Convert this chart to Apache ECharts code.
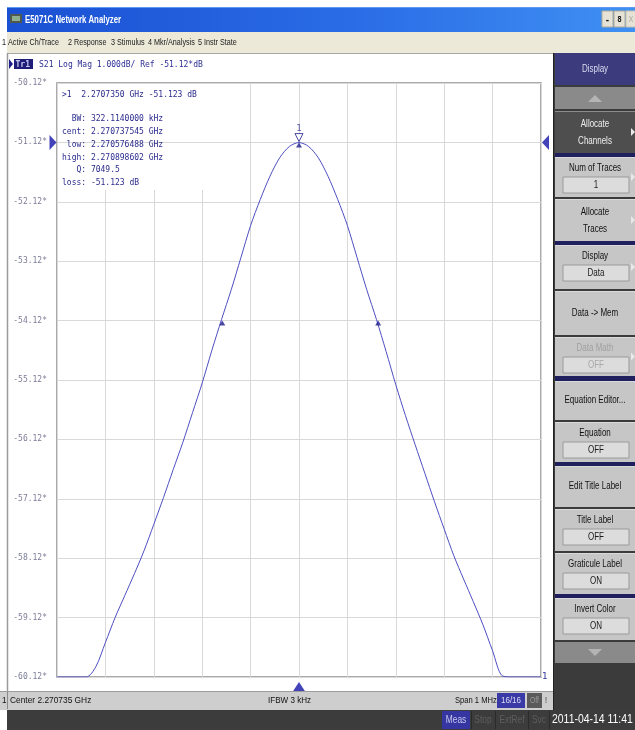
<!DOCTYPE html>
<html><head><meta charset="utf-8">
<script src="https://cdn.jsdelivr.net/npm/echarts@6/dist/echarts.min.js"></script>
<style>html,body{margin:0;padding:0;background:#fff}#c{width:635px;height:730px}</style>
</head><body><div id="c"></div>
<script>
// ---- chart data ----
const freqOffsetKHz = [-500,-440,-420,-400,-380,-360,-340,-320,-300,-280,-260,-240,-220,-200,-180,-160,-140,-120,-100,-80,-60,-40,-20,0,20,40,60,80,100,120,140,160,180,200,220,240,260,280,300,320,340,360,380,400,420,440,500];
const s21dB = [-60.12,-60.12,-59.95,-59.54,-59.12,-58.75,-58.38,-57.99,-57.55,-57.10,-56.63,-56.17,-55.67,-55.17,-54.62,-54.10,-53.60,-53.06,-52.52,-52.08,-51.69,-51.38,-51.19,-51.123,-51.19,-51.38,-51.69,-52.08,-52.52,-53.06,-53.60,-54.10,-54.64,-55.20,-55.72,-56.21,-56.69,-57.17,-57.63,-58.08,-58.47,-58.85,-59.24,-59.68,-60.10,-60.12,-60.12];
const refLevel = -51.12;
const scaleBottom = -60.12;
const scaleTop = -50.12;
const scaleDiv = 1;
const xSpanMin = -500;
const xSpanMax = 500;
const xDiv = 100;
const activeMarkerF = [0];
const activeMarkerV = [-51.123];
const bwMarkerF = [-158.5, 163.6];
const bwMarkerV = [-54.12, -54.12];
const traceHeader = 'S21 Log Mag 1.000dB/ Ref -51.12*dB';
const readoutLines = ['>1  2.2707350 GHz -51.123 dB','','  BW: 322.1140000 kHz','cent: 2.270737545 GHz',' low: 2.270576488 GHz','high: 2.270898602 GHz','   Q: 7049.5','loss: -51.123 dB'];
const menuItems = ['1 Active Ch/Trace','2 Response','3 Stimulus','4 Mkr/Analysis','5 Instr State'];

// ---- layout / style ----
const MONO = '"DejaVu Sans Mono","Liberation Mono",monospace';
const SANS = '"Liberation Sans",Arial,sans-serif';
const NAVY = '#1c1c8c';
const G = [];
function R(x,y,w,h,fill,z,stroke){ G.push({type:'rect',z:z||5,silent:true,shape:{x:x,y:y,width:w,height:h},style:{fill:fill,stroke:stroke||null,lineWidth:1}}); }
function T(x,y,s,font,fill,align,sx,z){ G.push({type:'text',x:x,y:y,scaleX:sx||1,z:z||7,silent:true,style:{text:s,font:font,fill:fill,textAlign:align||'left',textVerticalAlign:'middle',align:align||'left',verticalAlign:'middle'}}); }
function P(pts,fill,z){ G.push({type:'polygon',z:z||7,silent:true,shape:{points:pts},style:{fill:fill}}); }
function Ln(x1,y1,x2,y2,stroke,w,z){ G.push({type:'line',z:z||6,silent:true,shape:{x1:x1,y1:y1,x2:x2,y2:y2},style:{stroke:stroke,lineWidth:w||1}}); }

// title bar
G.push({type:'rect',z:5,silent:true,shape:{x:7,y:7,width:628,height:25},style:{fill:new echarts.graphic.LinearGradient(0,0,1,0,[{offset:0,color:'#1a50d2'},{offset:0.55,color:'#2a6ce6'},{offset:1,color:'#3f90f3'}])}});
Ln(7,7.5,635,7.5,'#5f9af0',1);
R(10,14,12,9,'#4d5a4d',6); R(12,16,8,5,'#8fae8f',7);
T(25,20,'E5071C Network Analyzer','bold 11.5px '+SANS,'#ffffff','left',0.68);
R(602,11,11,16,'#e6e3d6',6,'#b0ab98'); T(607.5,20,'-','bold 10px '+SANS,'#111','center');
R(614,11,11,16,'#e6e3d6',6,'#b0ab98'); T(619.5,19.5,'8','bold 9px '+SANS,'#111','center',0.8);
R(626,11,10,16,'#e6e3d6',6,'#c8c3b0'); T(631,19.5,'X','9px '+SANS,'#b0a8a0','center',0.8);
// menu bar
R(7,32,628,21,'#ece9d8',5);
(function(){ const xs=[2,68,111,148,198]; menuItems.forEach((m,i)=>T(xs[i],42.5,m,'9px '+SANS,'#1a1a1a','left',0.8)); })();
Ln(7,53.5,553,53.5,'#a8a8a8',1);
Ln(7.5,53,7.5,691,'#9a9a9a',1.5);

// trace header
P([[9,59],[9,69],[13,64]],NAVY);
R(14,59,19,10,'#1e1e78',6);
T(15.5,64.5,'Tr1','bold 8px '+MONO,'#c8c8f0');
T(39,64.5,traceHeader,'8px '+MONO,'#2e2e96');

// readout box background (covers the graticule)
R(58,84,188,106,'#ffffff',1);
readoutLines.forEach((s,i)=>{ if(s) T(62, i===0?95:(94+i*12.7), s,'8px '+MONO,'#2a2a8e'); });

// right soft-key panel
const KF = '10px '+SANS, KS = 0.8;
R(553,53,82,657,'#3b3b3b',4);
Ln(553.5,53,553.5,710,'#222',1);
function key(y0,y1,bg,fg,lines,field,fieldFg,arrow){
  R(555,y0,80,y1-y0,bg,5);
  Ln(555,y0+0.5,635,y0+0.5,'rgba(255,255,255,0.35)',1);
  if(field){
    T(595,y0+11,lines[0],KF,fg,'center',KS);
    R(563,y0+20,66,16,'#dcdcdc',6,'#9a9a9a');
    T(596,y0+28.5,field,KF,fieldFg||'#1a1a1a','center',KS);
  } else if(lines.length===2){
    T(595,(y0+y1)/2-8,lines[0],KF,fg,'center',KS);
    T(595,(y0+y1)/2+9,lines[1],KF,fg,'center',KS);
  } else {
    T(595,(y0+y1)/2,lines[0],KF,fg,'center',KS);
  }
  if(arrow){ P([[631,(y0+y1)/2-4],[631,(y0+y1)/2+4],[635,(y0+y1)/2]],'#e8e8e8'); }
}
function sep(y0,y1){ R(555,y0,80,y1-y0,'#20205e',6); }
R(555,53,80,32,'#3b3b7e',5);
T(595,69,'Display',KF,'#dcdcf0','center',KS);
R(555,87,80,22,'#8a8a8a',5);
P([[588,102],[602,102],[595,95]],'#b4b4b4');
key(111,153,'#4e4e4e','#f0f0f0',['Allocate','Channels'],null,null,true);
sep(153,157);
key(157,197,'#c6c6c6','#111',['Num of Traces'],'1',null,true);
key(199,241,'#c6c6c6','#111',['Allocate','Traces'],null,null,true);
sep(241,245);
key(245,289,'#c6c6c6','#111',['Display'],'Data',null,true);
key(291,335,'#c6c6c6','#111',['Data -> Mem']);
key(337,376,'#c6c6c6','#a0a0a0',['Data Math'],'OFF','#a8a8a8',true);
sep(376,381);
key(381,420,'#c6c6c6','#111',['Equation Editor...']);
key(422,462,'#c6c6c6','#111',['Equation'],'OFF');
sep(462,466);
key(466,507,'#c6c6c6','#111',['Edit Title Label']);
key(509,551,'#c6c6c6','#111',['Title Label'],'OFF');
key(553,594,'#c6c6c6','#111',['Graticule Label'],'ON');
sep(594,598);
key(598,640,'#c6c6c6','#111',['Invert Color'],'ON');
R(555,642,80,21,'#8a8a8a',5);
P([[588,649],[602,649],[595,656]],'#b4b4b4');

// status bar
R(0,691,553,19,'#cecece',5);
Ln(0,691.5,553,691.5,'#9c9c9c',1);
T(2,700.5,'1','9.5px '+SANS,'#111','left',0.85);
Ln(7.5,692,7.5,709,'#8a8a8a',1);
T(10,700.5,'Center 2.270735 GHz','9.5px '+SANS,'#111','left',0.88);
T(268,700.5,'IFBW 3 kHz','9.5px '+SANS,'#111','left',0.85);
T(455,700.5,'Span 1 MHz','9.5px '+SANS,'#111','left',0.8);
R(497,693,28,15,'#3a3aa6',6);
T(511,700.5,'16/16','9.5px '+SANS,'#dcdcf4','center',0.85);
R(527,693,15,15,'#5a5a5a',6);
T(534.5,700.5,'Off','8.5px '+SANS,'#9a9a9a','center',0.8);
T(546,700.5,'!','9px '+SANS,'#555','center');
// bottom bar
R(7,710,628,20,'#3c3c3c',5);
R(442,711,28,18,'#3636a2',6);
T(456,720,'Meas','10.5px '+SANS,'#c8c8ee','center',0.8);
Ln(471.5,711,471.5,729,'#2a2a2a',1);
T(483,720,'Stop','10.5px '+SANS,'#5e5e5e','center',0.8);
Ln(495.5,711,495.5,729,'#2a2a2a',1);
T(512,720,'ExtRef','10.5px '+SANS,'#5e5e5e','center',0.8);
Ln(528.5,711,528.5,729,'#2a2a2a',1);
T(539,720,'Svc','10.5px '+SANS,'#5e5e5e','center',0.8);
Ln(549.5,711,549.5,729,'#2a2a2a',1);
T(552,720,'2011-04-14 11:41','12px '+SANS,'#ffffff','left',0.87);

const chart = echarts.init(document.getElementById('c'), null, {renderer:'canvas', width:635, height:730});
chart.setOption({
  animation:false,
  backgroundColor:'#ffffff',
  grid:{left:57, top:83, width:484, height:594, show:true, borderColor:'#8e8e8e', borderWidth:1.5, backgroundColor:'transparent'},
  xAxis:{type:'value', min:xSpanMin, max:xSpanMax, interval:xDiv,
    axisLine:{show:false}, axisTick:{show:false}, axisLabel:{show:false},
    splitLine:{show:true, lineStyle:{color:'#d9d9d9', width:1}}},
  yAxis:{type:'value', min:scaleBottom, max:scaleTop, interval:scaleDiv,
    axisLine:{show:false}, axisTick:{show:false},
    axisLabel:{show:true, margin:10, color:'#7c7c98', fontFamily:'DejaVu Sans Mono', fontSize:8,
      formatter:function(v){ return v.toFixed(2)+'*'; }},
    splitLine:{show:true, lineStyle:{color:'#d9d9d9', width:1}}},
  graphic:{elements:G},
  series:[
    {type:'line', data:freqOffsetKHz.map((f,i)=>[f,s21dB[i]]), showSymbol:false, smooth:0.3,
     lineStyle:{color:'#4e4ec2', width:1}, z:3,
     endLabel:{show:true, formatter:'1', color:'#3030a0', fontFamily:'DejaVu Sans Mono', fontSize:9, distance:1},
     markLine:{silent:true, symbol:'none', label:{show:false}, lineStyle:{color:'#d9d9d9', type:'solid', width:1},
       data:[{yAxis:refLevel}], z:1}},
    {type:'scatter', clip:false, z:4, data:bwMarkerF.map((f,i)=>[f,bwMarkerV[i]]),
     symbol:'triangle', symbolSize:[6,5], symbolOffset:[0,2.5], itemStyle:{color:NAVY}},
    {type:'scatter', clip:false, z:4, data:activeMarkerF.map((f,i)=>[f,activeMarkerV[i]]),
     symbol:'triangle', symbolSize:[6,5], symbolOffset:[0,2.5], itemStyle:{color:NAVY}},
    {type:'scatter', clip:false, z:4, data:activeMarkerF.map((f,i)=>[f,activeMarkerV[i]]),
     symbol:'triangle', symbolRotate:180, symbolSize:[8,8], symbolOffset:[0,-5],
     itemStyle:{color:'#ffffff', borderColor:NAVY, borderWidth:1},
     label:{show:true, formatter:'1', position:'top', distance:0, color:'#2a2a8e', fontFamily:'DejaVu Sans Mono', fontSize:9}},
    {type:'scatter', clip:false, z:4, data:[[0, scaleBottom]],
     symbol:'triangle', symbolSize:[13,10], symbolOffset:[0,10], itemStyle:{color:'#1414a8'}},
    {type:'scatter', clip:false, z:4, data:[[xSpanMin, refLevel]],
     symbol:'triangle', symbolRotate:-90, symbolSize:[15,7], symbolOffset:[-4,0], itemStyle:{color:'#1414a8'}},
    {type:'scatter', clip:false, z:4, data:[[xSpanMax, refLevel]],
     symbol:'triangle', symbolRotate:90, symbolSize:[15,7], symbolOffset:[4.5,0], itemStyle:{color:'#1414a8'}}
  ]
});
</script></body></html>
